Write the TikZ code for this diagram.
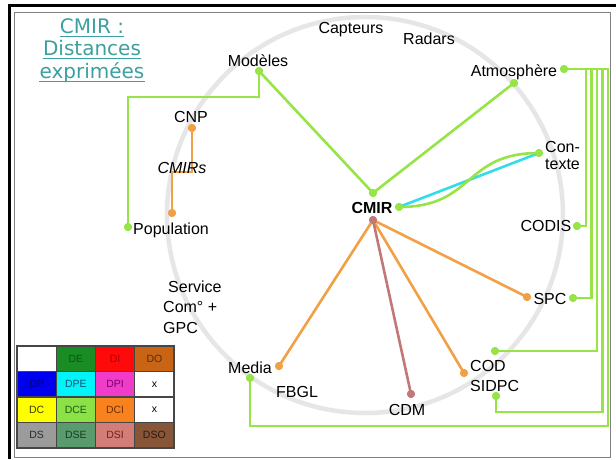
\documentclass[tikz,border=0pt]{standalone}
\usepackage{fontspec}
\setmainfont{Liberation Sans}
\newfontfamily\titlefont{DejaVu Sans}
\definecolor{lgreen}{RGB}{150,228,70}
\definecolor{lorange}{RGB}{242,160,70}
\definecolor{lrose}{RGB}{195,120,120}
\definecolor{lcyan}{RGB}{50,220,235}
\definecolor{ringgray}{RGB}{230,230,230}
\definecolor{titleteal}{RGB}{60,160,160}
\definecolor{legline}{RGB}{70,70,70}
\definecolor{cDE}{RGB}{25,140,35}\definecolor{tDE}{RGB}{15,85,20}
\definecolor{cDI}{RGB}{255,10,10}\definecolor{tDI}{RGB}{170,0,0}
\definecolor{cDO}{RGB}{200,100,20}\definecolor{tDO}{RGB}{90,45,10}
\definecolor{cDP}{RGB}{0,0,240}\definecolor{tDP}{RGB}{0,0,130}
\definecolor{cDPE}{RGB}{0,245,250}\definecolor{tDPE}{RGB}{20,80,120}
\definecolor{cDPI}{RGB}{240,60,200}\definecolor{tDPI}{RGB}{120,0,110}
\definecolor{cDC}{RGB}{255,255,0}\definecolor{tDC}{RGB}{60,60,0}
\definecolor{cDCE}{RGB}{140,225,70}\definecolor{tDCE}{RGB}{30,90,20}
\definecolor{cDCI}{RGB}{250,130,30}\definecolor{tDCI}{RGB}{110,50,0}
\definecolor{cDS}{RGB}{155,155,155}\definecolor{tDS}{RGB}{40,40,40}
\definecolor{cDSE}{RGB}{90,155,110}\definecolor{tDSE}{RGB}{20,60,35}
\definecolor{cDSI}{RGB}{210,125,120}\definecolor{tDSI}{RGB}{120,30,30}
\definecolor{cDSO}{RGB}{135,85,55}\definecolor{tDSO}{RGB}{45,25,15}
\begin{document}
\begin{tikzpicture}[x=1pt,y=-1pt,
  lbl/.style={font=\fontsize{16}{17}\selectfont, inner sep=0pt, anchor=base},
  ttl/.style={font=\titlefont\fontsize{20}{22}\selectfont, text=titleteal, inner sep=0pt, anchor=base},
  dotg/.style={circle, fill=lgreen, inner sep=0pt, minimum size=8pt},
  doto/.style={circle, fill=lorange, inner sep=0pt, minimum size=8pt},
  dotr/.style={circle, fill=lrose, inner sep=0pt, minimum size=8pt},
  gline/.style={draw=lgreen, line width=2.6pt},
  bline/.style={draw=lgreen, line width=2.3pt},
  oline/.style={draw=lorange, line width=2.6pt},
  rline/.style={draw=lrose, line width=2.6pt},
  cline/.style={draw=lcyan, line width=2.6pt},
  cell/.style={draw=legline, line width=1.2pt, anchor=north west, inner sep=0pt, outer sep=0pt,
    minimum width=39.25pt, minimum height=25.5pt, font=\fontsize{10.5}{12}\selectfont}
]
\useasboundingbox (0,0) rectangle (616,459);
\fill[white] (0,0) rectangle (616,459);
% frame
\draw[black, line width=3pt] (9.5,459) -- (9.5,5.5) -- (616,5.5);
\draw[gray, line width=0.8pt] (14.5,12) rectangle (610,457.5);
% ring
\draw[ringgray, line width=4.5pt] (365,215) circle (198pt);

% title
\node[ttl] (t1) at (92,33) {CMIR :};
\node[ttl] (t2) at (92,55.5) {Distances};
\node[ttl] (t3) at (92,78) {exprimées};
\foreach \t in {t1,t2,t3}{
  \draw[titleteal, line width=1pt] ([yshift=-3pt]\t.base west) -- ([yshift=-3pt]\t.base east);
}

% dots
\node[dotg] (modd) at (259,71) {};
\node[dotg] (cmirT) at (373,193) {};
\node[dotg] (cmirR) at (399,207) {};
\node[dotr] (cmirB) at (373,220) {};
\node[dotg] (atmR) at (564,69) {};
\node[dotg] (atmL) at (514,83) {};
\node[dotg] (ctx) at (539,153) {};
\node[dotg] (codisd) at (577,226) {};
\node[doto] (spcO) at (527,297) {};
\node[dotg] (spcG) at (573,298) {};
\node[dotg] (circG) at (495,351) {};
\node[doto] (codO) at (464,373) {};
\node[dotg] (sidpcG) at (496,396) {};
\node[dotr] (cdmd) at (411,394) {};
\node[doto] (mediaO) at (279,366) {};
\node[dotg] (mediaG) at (250,378) {};
\node[dotg] (popG) at (128,227) {};
\node[doto] (cnpd) at (192,128) {};
\node[doto] (cmirsd) at (172,213) {};

% bend coordinates
\coordinate (mp) at (128,97);
\coordinate (cm) at (172,172);
\coordinate (b1) at (586,226);
\coordinate (b2) at (591.5,298);
\coordinate (b3) at (597,351);
\coordinate (b4) at (602.5,412);
\coordinate (b5) at (608,426);

% connectors
\draw[gline] (modd.center) -- (cmirT.center);
\draw[gline] (atmL.center) -- (cmirT.center);
\draw[gline] (modd.center) |- (mp) -- (popG.center);
\draw[cline] (cmirR.center) -- (ctx.center);
\draw[gline] (cmirR.center) to[out=0,in=180,looseness=1.3] (ctx.center);
\draw[bline] (atmR.center) -| (b1) -- (codisd.center);
\draw[bline] (atmR.center) -| (b2) -- (spcG.center);
\draw[bline] (atmR.center) -| (b3) -- (circG.center);
\draw[bline] (atmR.center) -| (b4) -| (sidpcG.center);
\draw[bline] (atmR.center) -| (b5) -| (mediaG.center);
\draw[oline] (cmirB.center) -- (spcO.center);
\draw[oline] (cmirB.center) -- (codO.center);
\draw[oline] (cmirB.center) -- (mediaO.center);
\draw[rline] (cmirB.center) -- (cdmd.center);
\draw[oline] (cnpd.center) |- (cm) -- (cmirsd.center);

% redraw dots on top
\foreach \d in {modd,cmirT,cmirR,atmR,atmL,ctx,codisd,spcG,circG,sidpcG,mediaG,popG}{
  \fill[lgreen] (\d) circle (4pt);
}
\foreach \d in {spcO,codO,mediaO,cnpd,cmirsd}{ \fill[lorange] (\d) circle (4pt); }
\foreach \d in {cmirB,cdmd}{ \fill[lrose] (\d) circle (4pt); }

% labels
\node[lbl] (lmod) at (258,66) {Modèles};
\node[lbl] (lcap) at (351,33) {Capteurs};
\node[lbl] (lrad) at (429,44) {Radars};
\node[lbl] (latm) at (514,76) {Atmosphère};
\node[lbl, anchor=base west, align=left] (lctx) at (545,169) {Con-\\texte};
\node[lbl, font=\fontsize{16}{17}\selectfont\bfseries] (lcmir) at (372,213) {CMIR};
\node[lbl] (lcodis) at (546,231) {CODIS};
\node[lbl] (lspc) at (550,304) {SPC};
\node[lbl, anchor=base west, align=left, font=\fontsize{16}{20}\selectfont] (lcod) at (470,391) {COD\\SIDPC};
\node[lbl] (lcdm) at (407,415) {CDM};
\node[lbl] (lfbgl) at (297,397) {FBGL};
\node[lbl] (lmedia) at (250,373) {Media};
\node[lbl, anchor=base west, align=left, font=\fontsize{16}{20.5}\selectfont] (lserv) at (163,333) {\hspace*{5pt}Service\\Com° +\\GPC};
\node[lbl] (lpop) at (171,234) {Population};
\node[lbl] (lcnp) at (191,122) {CNP};
\node[lbl, font=\fontsize{16}{17}\selectfont\itshape] (lcmirs) at (182,173) {CMIRs};

% legend
\foreach \r/\c/\cc/\tc/\txt in {
  0/0/white/black/{}, 0/1/cDE/tDE/DE, 0/2/cDI/tDI/DI, 0/3/cDO/tDO/DO,
  1/0/cDP/tDP/DP, 1/1/cDPE/tDPE/DPE, 1/2/cDPI/tDPI/DPI, 1/3/white/black/x,
  2/0/cDC/tDC/DC, 2/1/cDCE/tDCE/DCE, 2/2/cDCI/tDCI/DCI, 2/3/white/black/x,
  3/0/cDS/tDS/DS, 3/1/cDSE/tDSE/DSE, 3/2/cDSI/tDSI/DSI, 3/3/cDSO/tDSO/DSO}{
  \node[cell, fill=\cc, text=\tc] (cell\r\c) at ({17+39.25*\c},{346+25.5*\r}) {\txt};
}
\end{tikzpicture}
\end{document}
